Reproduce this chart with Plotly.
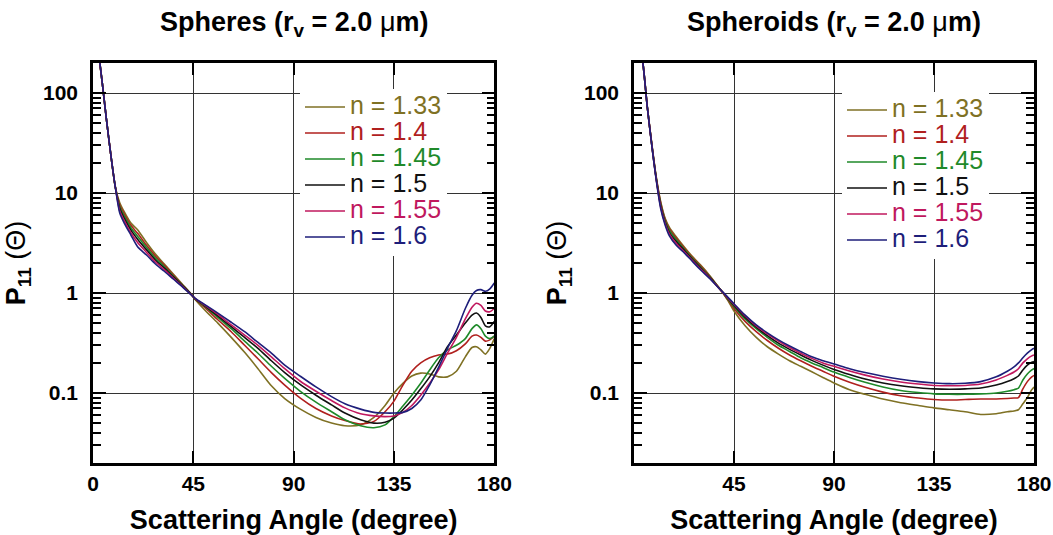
import plotly.graph_objects as go

# ---------------- data ----------------
angles_sph = [0, 2, 4, 6, 8, 10, 12, 14, 17, 20, 24, 28, 32, 36, 40, 44, 46, 50, 56, 62, 68, 74, 80, 86, 93,
              100, 107, 113, 120, 126, 131, 135, 139, 143, 147, 151, 155, 159, 163, 167, 170, 172, 174, 176, 178, 180]

sph_133 = [500, 300, 135, 55, 24, 11.5, 8.0, 6.5, 5.0, 4.3, 3.2, 2.45, 1.95, 1.55, 1.23, 0.98, 0.85, 0.68, 0.50, 0.36, 0.255, 0.175, 0.118, 0.088, 0.069,
           0.057, 0.050, 0.047, 0.048, 0.057, 0.075, 0.10, 0.125, 0.148, 0.158, 0.155, 0.145, 0.145, 0.165, 0.23, 0.285, 0.29, 0.27, 0.245, 0.28, 0.35]
sph_140 = [500, 300, 135, 55, 24, 11.5, 7.6, 6.2, 4.75, 3.95, 3.0, 2.34, 1.89, 1.51, 1.21, 0.975, 0.86, 0.72, 0.54, 0.41, 0.30, 0.22, 0.16, 0.12, 0.089,
           0.070, 0.059, 0.053, 0.049, 0.052, 0.065, 0.083, 0.12, 0.165, 0.20, 0.225, 0.24, 0.245, 0.265, 0.31, 0.37, 0.38, 0.36, 0.33, 0.34, 0.37]
sph_145 = [500, 300, 135, 55, 24, 11.5, 7.3, 5.9, 4.5, 3.7, 2.85, 2.24, 1.83, 1.48, 1.20, 0.97, 0.865, 0.74, 0.57, 0.44, 0.33, 0.25, 0.185, 0.14, 0.104,
           0.081, 0.065, 0.054, 0.047, 0.045, 0.048, 0.058, 0.074, 0.095, 0.125, 0.17, 0.225, 0.27, 0.30, 0.35, 0.44, 0.48, 0.44, 0.37, 0.35, 0.37]
sph_150 = [500, 300, 135, 55, 24, 11.5, 7.0, 5.6, 4.25, 3.45, 2.7, 2.14, 1.77, 1.45, 1.19, 0.97, 0.87, 0.75, 0.59, 0.46, 0.36, 0.28, 0.21, 0.16, 0.121,
           0.095, 0.076, 0.063, 0.054, 0.050, 0.051, 0.056, 0.068, 0.085, 0.11, 0.145, 0.20, 0.29, 0.38, 0.50, 0.60, 0.63, 0.57, 0.47, 0.46, 0.52]
sph_155 = [500, 300, 135, 55, 24, 11.5, 6.6, 5.3, 4.0, 3.2, 2.55, 2.04, 1.71, 1.41, 1.17, 0.965, 0.875, 0.76, 0.61, 0.48, 0.38, 0.30, 0.23, 0.175, 0.131,
           0.104, 0.084, 0.071, 0.062, 0.059, 0.058, 0.059, 0.064, 0.075, 0.095, 0.125, 0.17, 0.25, 0.36, 0.55, 0.72, 0.79, 0.75, 0.66, 0.65, 0.70]
sph_160 = [500, 300, 135, 55, 24, 11.5, 6.3, 5.0, 3.8, 2.9, 2.4, 1.95, 1.65, 1.38, 1.16, 0.96, 0.88, 0.77, 0.63, 0.51, 0.41, 0.32, 0.25, 0.19, 0.147,
           0.115, 0.092, 0.078, 0.069, 0.064, 0.063, 0.063, 0.064, 0.070, 0.085, 0.12, 0.18, 0.28, 0.42, 0.70, 0.95, 1.06, 1.08, 1.04, 1.10, 1.26]

angles_spd = [0, 2, 4, 6, 8, 10, 12, 14, 16, 19, 22, 26, 30, 34, 38, 40, 42, 45, 50, 55, 60, 65, 70, 75, 80, 85, 90,
              97, 104, 112, 120, 128, 135, 142, 149, 156, 163, 168, 171, 173, 175, 177, 179, 180]

spd_133 = [500, 360, 200, 72, 31, 14.5, 8.2, 5.6, 4.5, 3.65, 3.0, 2.35, 1.9, 1.5, 1.15, 1.0, 0.86, 0.66, 0.47, 0.36, 0.29, 0.245, 0.21, 0.185, 0.163, 0.143, 0.126,
           0.108, 0.097, 0.087, 0.080, 0.075, 0.071, 0.068, 0.065, 0.061, 0.062, 0.065, 0.066, 0.068, 0.078, 0.090, 0.108, 0.115]
spd_140 = [500, 360, 200, 72, 31, 14.3, 8.0, 5.45, 4.35, 3.52, 2.92, 2.3, 1.86, 1.48, 1.145, 1.005, 0.87, 0.70, 0.52, 0.41, 0.335, 0.28, 0.24, 0.21, 0.185, 0.165, 0.147,
           0.128, 0.114, 0.102, 0.094, 0.089, 0.086, 0.085, 0.086, 0.087, 0.087, 0.088, 0.089, 0.090, 0.110, 0.130, 0.145, 0.150]
spd_145 = [500, 360, 200, 72, 30.5, 14.1, 7.75, 5.3, 4.2, 3.4, 2.84, 2.25, 1.82, 1.46, 1.14, 1.01, 0.88, 0.73, 0.55, 0.44, 0.36, 0.30, 0.26, 0.225, 0.20, 0.18, 0.162,
           0.143, 0.128, 0.115, 0.106, 0.101, 0.098, 0.097, 0.097, 0.098, 0.100, 0.104, 0.108, 0.112, 0.135, 0.155, 0.170, 0.176]
spd_150 = [500, 360, 200, 72, 30.3, 13.9, 7.5, 5.1, 4.0, 3.27, 2.76, 2.2, 1.78, 1.44, 1.135, 1.012, 0.895, 0.75, 0.57, 0.455, 0.375, 0.315, 0.273, 0.24, 0.212, 0.19, 0.172,
           0.153, 0.138, 0.126, 0.118, 0.113, 0.110, 0.109, 0.110, 0.112, 0.120, 0.130, 0.139, 0.148, 0.170, 0.190, 0.203, 0.207]
spd_155 = [500, 360, 200, 72, 30.1, 13.7, 7.25, 4.95, 3.85, 3.13, 2.68, 2.15, 1.74, 1.42, 1.13, 1.015, 0.905, 0.77, 0.59, 0.47, 0.39, 0.33, 0.285, 0.25, 0.222, 0.20, 0.185,
           0.166, 0.151, 0.138, 0.129, 0.123, 0.119, 0.118, 0.119, 0.123, 0.135, 0.150, 0.162, 0.175, 0.200, 0.220, 0.235, 0.240]
spd_160 = [500, 360, 200, 72, 30, 13.5, 7.0, 4.8, 3.7, 3.0, 2.6, 2.1, 1.7, 1.4, 1.13, 1.02, 0.92, 0.78, 0.60, 0.48, 0.40, 0.34, 0.295, 0.26, 0.23, 0.21, 0.195,
           0.175, 0.160, 0.147, 0.137, 0.130, 0.126, 0.124, 0.125, 0.130, 0.145, 0.165, 0.182, 0.200, 0.225, 0.250, 0.272, 0.280]

series_labels = ["n = 1.33", "n = 1.4", "n = 1.45", "n = 1.5", "n = 1.55", "n = 1.6"]
series_colors = ["#7f7124", "#b0201e", "#1f8a2a", "#111111", "#c0185e", "#1e1e7a"]

x_ticks_left = [0, 45, 90, 135, 180]
x_ticks_right = [45, 90, 135, 180]
y_ticks = [0.1, 1, 10, 100]
y_ticktext = ["0.1", "1", "10", "100"]

panel_titles = ["<b>Spheres (r<sub>v</sub> = 2.0 </b>\u03bc<b>m)</b>",
                "<b>Spheroids (r<sub>v</sub> = 2.0 </b>\u03bc<b>m)</b>"]
x_title = "Scattering Angle (degree)"
y_title = "<b>P<sub>11</sub></b> (\u0398)"

# ---------------- figure ----------------
FONT = "Liberation Sans, Arial, sans-serif"
W, H = 1053, 535
ML, MR, MT, MB = 93, 19, 63, 72

fig = go.Figure()

sph = [sph_133, sph_140, sph_145, sph_150, sph_155, sph_160]
spd = [spd_133, spd_140, spd_145, spd_150, spd_155, spd_160]

for vals, lab, col in zip(sph, series_labels, series_colors):
    fig.add_trace(go.Scatter(
        x=angles_sph, y=vals, mode="lines", xaxis="x", yaxis="y", legend="legend",
        line=dict(color=col, width=1.6, shape="spline", smoothing=0.7),
        name=f"<span style='font-size:25px;color:{col}'>{lab}</span>",
        hoverinfo="skip"))
for vals, lab, col in zip(spd, series_labels, series_colors):
    fig.add_trace(go.Scatter(
        x=angles_spd, y=vals, mode="lines", xaxis="x2", yaxis="y2", legend="legend2",
        line=dict(color=col, width=1.6, shape="spline", smoothing=0.7),
        name=f"<span style='font-size:25px;color:{col}'>{lab}</span>",
        hoverinfo="skip"))

pw = W - ML - MR
left_dom = [0, (494.3 - ML) / pw]
right_dom = [(634 - ML) / pw, 1]


def xaxis(dom, ticks, anchor):
    return dict(domain=dom, anchor=anchor, range=[0, 180], tickmode="array", tickvals=ticks,
                ticktext=[str(t) for t in ticks], ticks="inside", ticklen=12, tickwidth=2,
                tickcolor="black", showline=True, linewidth=2.5, linecolor="black", mirror="ticks",
                showgrid=True, gridcolor="#333333", gridwidth=1, zeroline=False,
                tickfont=dict(family=FONT, size=21, color="black", weight="bold"),
                title=dict(text=x_title, font=dict(family=FONT, size=27, color="black", weight="bold"),
                           standoff=18),
                automargin=False, fixedrange=True)


def yaxis(anchor):
    return dict(anchor=anchor, domain=[0, 1], type="log", range=[-1.7, 2.3], tickmode="array",
                tickvals=y_ticks, ticktext=y_ticktext, ticks="inside", ticklen=13, tickwidth=2,
                tickcolor="black", showline=True, linewidth=2.5, linecolor="black", mirror="ticks",
                showgrid=True, gridcolor="#333333", gridwidth=1, zeroline=False,
                minor=dict(ticks="inside", ticklen=8, tickwidth=1.5, tickcolor="black", dtick="D1",
                           showgrid=False),
                tickfont=dict(family=FONT, size=21, color="black", weight="bold"),
                ticklabelstandoff=8,
                title=dict(text=y_title, font=dict(family=FONT, size=27, color="black"), standoff=10),
                automargin=False, fixedrange=True)


legend_common = dict(xanchor="left", yanchor="top", bgcolor="white", borderwidth=0,
                     font=dict(family=FONT, size=17.7, color="black"), itemwidth=40,
                     tracegroupgap=0, itemclick=False, itemdoubleclick=False)

fig.update_layout(
    width=W, height=H, template="none",
    margin=dict(l=ML, r=MR, t=MT, b=MB, pad=0),
    paper_bgcolor="white", plot_bgcolor="white",
    font=dict(family=FONT, color="black"),
    xaxis=xaxis(left_dom, x_ticks_left, "y"),
    xaxis2=xaxis(right_dom, x_ticks_right, "y2"),
    yaxis=yaxis("x"),
    yaxis2=yaxis("x2"),
    showlegend=True,
    legend=dict(x=(300 - ML) / pw, y=1 - (89 - MT) / 400, **legend_common),
    legend2=dict(x=(842 - ML) / pw, y=1 - (92 - MT) / 400, **legend_common),
)

for dom, txt in zip([left_dom, right_dom], panel_titles):
    fig.add_annotation(x=(dom[0] + dom[1]) / 2, y=1 + (MT - 24) / 400, xref="paper", yref="paper",
                       text=txt, showarrow=False, xanchor="center", yanchor="middle",
                       font=dict(family=FONT, size=27, color="black"))

fig.write_html("out.html")
